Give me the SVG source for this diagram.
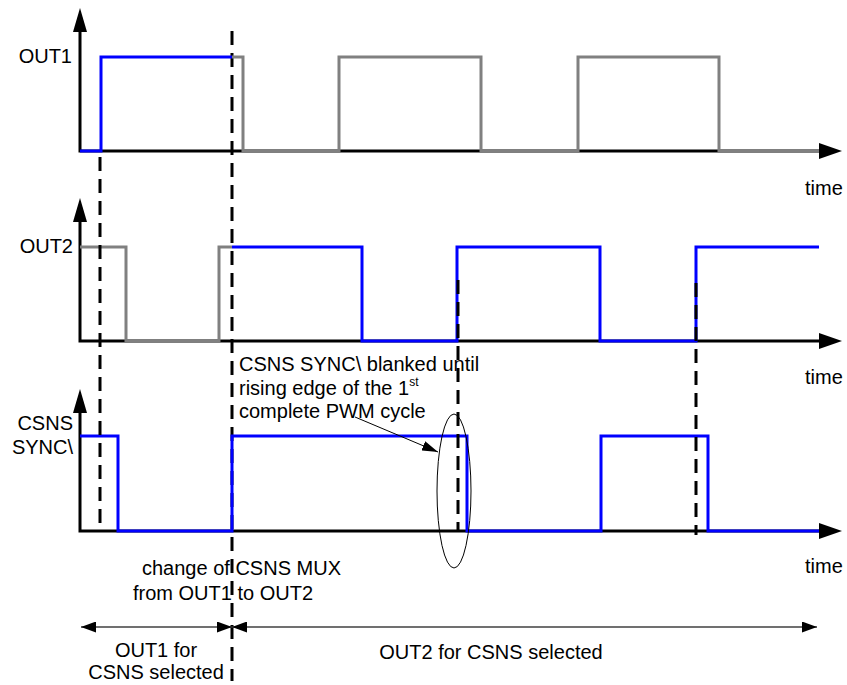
<svg xmlns="http://www.w3.org/2000/svg" width="847" height="685" viewBox="0 0 847 685">
<defs>
<style>
text{font-family:"Liberation Sans",Arial,sans-serif;font-size:20px;fill:#000}
.ax{stroke:#000;stroke-width:3;fill:none}
.ah{fill:#000;stroke:none}
.gr{stroke:#808080;stroke-width:3;fill:none;stroke-linejoin:miter}
.bl{stroke:#0000FF;stroke-width:3;fill:none;stroke-linejoin:miter}
.ds{stroke:#000;stroke-width:3;fill:none;stroke-dasharray:14 8}
.dim{stroke:#404040;stroke-width:1.5;fill:none}
.end{text-anchor:end}
.mid{text-anchor:middle}
</style>
<marker id="dimA" viewBox="0 0 15 11" refX="15" refY="5.5" markerWidth="15" markerHeight="11" markerUnits="userSpaceOnUse" orient="auto-start-reverse">
<path d="M0,0 L15,5.5 L0,11 Z" fill="#000"/>
</marker>
<marker id="noteA" viewBox="0 0 16 10" refX="16" refY="5" markerWidth="16" markerHeight="10" markerUnits="userSpaceOnUse" orient="auto">
<path d="M0,0 L16,5 L0,10 Z" fill="#000"/>
</marker>
</defs>

<g id="dash-mux">
<line class="ds" x1="232" y1="31" x2="232" y2="681"/>
</g>

<g id="axis-out1">
<polyline class="ax" points="80,30 80,151 820,151"/>
<polygon class="ah" points="80,8 73,32 87,32"/>
<polygon class="ah" points="842,151 819,143 819,159"/>
<text x="72" y="63" class="end">OUT1</text>
<text x="805" y="195">time</text>
</g>

<g id="axis-out2">
<polyline class="ax" points="80,220 80,341 820,341"/>
<polygon class="ah" points="80,198 73,222 87,222"/>
<polygon class="ah" points="842,341 819,333 819,349"/>
<text x="73" y="253" class="end">OUT2</text>
<text x="805" y="384">time</text>
</g>

<g id="axis-csns">
<polyline class="ax" points="80,410 80,531 820,531"/>
<polygon class="ah" points="80,389 73,413 87,413"/>
<polygon class="ah" points="842,531 819,523 819,539"/>
<text x="73" y="430" class="end">CSNS</text>
<text x="73" y="454" class="end">SYNC\</text>
<text x="805" y="573">time</text>
</g>

<g id="wave-out1">
<path class="gr" d="M232,57 H243 V151 H339 V57 H481 V151 H578 V57 H719 V151 H819"/>
<path class="bl" d="M80,151 H101 V57 H232"/>
</g>

<g id="wave-out2">
<path class="gr" d="M80,247 H126 V341 H219 V247 H232"/>
<path class="bl" d="M232,247 H362 V341 H457 V247 H600 V341 H696 V247 H819"/>
</g>

<g id="wave-csns">
<path class="bl" d="M80,436 H118 V531 H232 V436 H467 V531 H601 V436 H708 V531 H819"/>
</g>

<g id="note-blanked">
<text x="239" y="371">CSNS SYNC\ blanked until</text>
<text x="239" y="395">rising edge of the 1<tspan font-size="12" dy="-9">st</tspan></text>
<text x="239" y="418">complete PWM cycle</text>
<ellipse cx="454" cy="491" rx="17" ry="77" fill="none" stroke="#000" stroke-width="1"/>
</g>

<g id="note-mux">
<text x="142" y="575">change of CSNS MUX</text>
<text x="133" y="600">from OUT1 to OUT2</text>
</g>

<g id="span-out1">
<text x="156" y="657" class="mid">OUT1 for</text>
<text x="156" y="679" class="mid">CSNS selected</text>
</g>

<g id="span-out2">
<text x="491" y="659" class="mid">OUT2 for CSNS selected</text>
</g>

<g id="connectors">
<line class="ds" x1="100" y1="157" x2="100" y2="529"/>
<line class="ds" x1="458" y1="280" x2="458" y2="531"/>
<line class="ds" x1="696" y1="283" x2="696" y2="535"/>
<line stroke="#000" stroke-width="1" x1="355" y1="417" x2="438" y2="452" marker-end="url(#noteA)"/>
<line class="dim" x1="81" y1="627" x2="232" y2="627" marker-start="url(#dimA)" marker-end="url(#dimA)"/>
<line class="dim" x1="232" y1="627" x2="817" y2="627" marker-start="url(#dimA)" marker-end="url(#dimA)"/>
</g>
</svg>
